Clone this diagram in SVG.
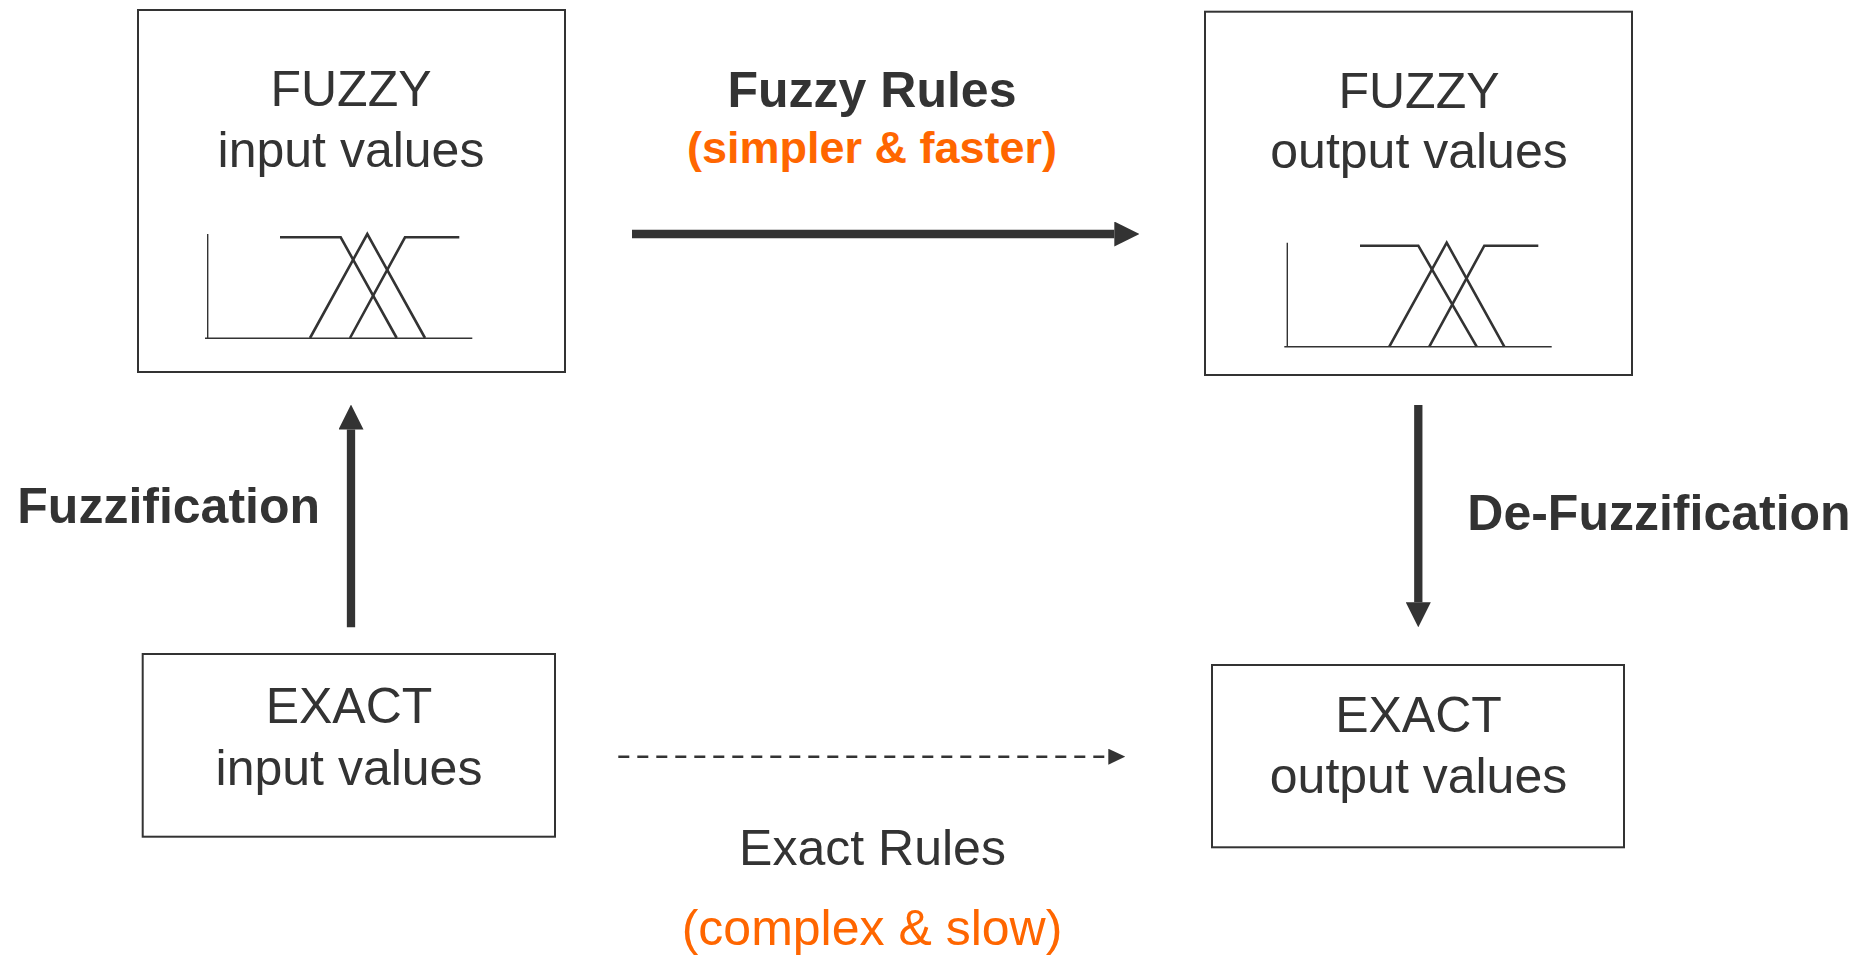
<svg xmlns="http://www.w3.org/2000/svg" width="1874" height="957" viewBox="0 0 1874 957">
<style>
.box{fill:#fff;stroke:#333;stroke-width:2}
.t{font-family:"Liberation Sans",Arial,sans-serif;font-size:50px;fill:#333;text-anchor:middle}
.b{font-weight:bold}
.o{fill:#ff6600}
.axis{stroke:#333;stroke-width:1.4;fill:none}
.mf{stroke:#333;stroke-width:2.6;fill:none}
.thick{stroke:#333;stroke-width:8.3;fill:none}
.dash{stroke:#333;stroke-width:2.6;fill:none;stroke-dasharray:11 8}
</style>
<defs>
<marker id="ah" markerUnits="userSpaceOnUse" markerWidth="25" markerHeight="25" viewBox="0 0 25 25" refX="0" refY="12.5" orient="auto"><path d="M0,0 L25,12.5 L0,25 z" fill="#333"/></marker>
<marker id="ahs" markerUnits="userSpaceOnUse" markerWidth="17" markerHeight="16" viewBox="0 0 17 16" refX="0" refY="8" orient="auto"><path d="M0,0 L17,8 L0,16 z" fill="#333"/></marker>
</defs>
<rect width="1874" height="957" fill="#fff"/>
<g id="fuzzy-input">
<rect class="box" x="138" y="10" width="427" height="362"/>
<text class="t" x="351" y="106">FUZZY</text>
<text class="t" x="351" y="166.7">input values</text>
<path class="axis" d="M207.7,234 V338.3 M205,338.3 H472.3"/>
<polyline class="mf" points="280,237.3 340.7,237.3 396.7,338"/>
<polyline class="mf" points="310,338 367.3,234 425,338"/>
<polyline class="mf" points="350,338 405,237.3 459.3,237.3"/>
</g>
<g id="fuzzy-output">
<rect class="box" x="1205" y="11.7" width="427" height="363.3"/>
<text class="t" x="1419" y="108.3">FUZZY</text>
<text class="t" x="1419" y="168.3">output values</text>
<path class="axis" d="M1287.3,242.7 V346.7 M1284.3,346.7 H1551.7"/>
<polyline class="mf" points="1360,245.7 1418.3,245.7 1476.7,346.7"/>
<polyline class="mf" points="1389.3,346.7 1446.7,242.7 1504.3,346.7"/>
<polyline class="mf" points="1429.3,346.7 1484.3,245.7 1538.3,245.7"/>
</g>
<g id="exact-input">
<rect class="box" x="142.7" y="654" width="412.3" height="182.7"/>
<text class="t" x="349" y="723.3">EXACT</text>
<text class="t" x="349" y="785">input values</text>
</g>
<g id="exact-output">
<rect class="box" x="1212" y="665" width="412" height="182.3"/>
<text class="t" x="1418.5" y="731.7">EXACT</text>
<text class="t" x="1418.5" y="793.3">output values</text>
</g>
<g id="connectors">
<line class="thick" x1="632" y1="234" x2="1114.3" y2="234" marker-end="url(#ah)"/>
<line class="thick" x1="351" y1="627.3" x2="351" y2="429.5" marker-end="url(#ah)"/>
<line class="thick" x1="1418.3" y1="405" x2="1418.3" y2="602.3" marker-end="url(#ah)"/>
<line class="dash" x1="618.3" y1="756.7" x2="1108.3" y2="756.7" marker-end="url(#ahs)"/>
</g>
<g id="labels">
<text class="t b" x="872" y="106.7">Fuzzy Rules</text>
<text class="t b o" x="872" y="162.7" style="font-size:45px">(simpler &amp; faster)</text>
<text class="t b" x="17.3" y="523.3" style="text-anchor:start">Fuzzification</text>
<text class="t b" x="1467.3" y="530" style="text-anchor:start">De-Fuzzification</text>
<text class="t" x="872.5" y="865">Exact Rules</text>
<text class="t o" x="872" y="945">(complex &amp; slow)</text>
</g>
</svg>
